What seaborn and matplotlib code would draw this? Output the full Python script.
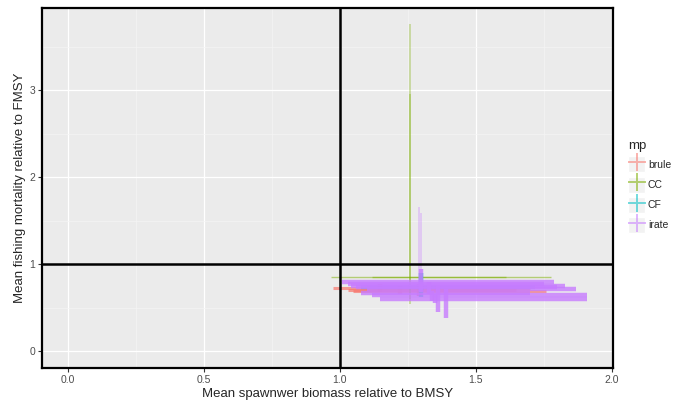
import matplotlib
matplotlib.use("Agg")
import matplotlib.pyplot as plt
from matplotlib.lines import Line2D
from matplotlib.patches import Rectangle
import seaborn as sns
import pandas as pd

# one row per scenario: mean SSB/BMSY and mean F/FMSY with their ranges
mp = ["brule", "brule", "brule",
      "CC", "CC",
      "CF",
      "irate", "irate", "irate", "irate", "irate", "irate", "irate", "irate"]
ssb = [1.15, 1.29, 1.22,
       1.26, 1.26,
       1.30,
       1.29, 1.30, 1.30, 1.33, 1.36, 1.39, 1.34, 1.35]
ssb_lo = [0.975, 1.05, 1.03,
          0.967, 1.12,
          1.08,
          1.01, 1.03, 1.04, 1.06, 1.10, 1.08, 1.12, 1.15]
ssb_hi = [1.70, 1.76, 1.65,
          1.776, 1.61,
          1.72,
          1.79, 1.75, 1.83, 1.80, 1.87, 1.70, 1.91, 1.91]
fmsy = [0.725, 0.69, 0.705,
        0.86, 0.86,
        0.74,
        0.80, 0.775, 0.755, 0.74, 0.715, 0.67, 0.645, 0.60]
fmsy_lo = [0.68, 0.64, 0.66,
           0.55, 0.60,
           0.62,
           0.70, 0.68, 0.68, 0.66, 0.45, 0.39, 0.58, 0.56]
fmsy_hi = [0.78, 0.78, 0.76,
           3.76, 2.96,
           0.90,
           1.66, 1.59, 0.95, 0.80, 0.76, 0.72, 0.70, 0.66]

df = pd.DataFrame({"mp": mp, "ssb": ssb, "ssb_lo": ssb_lo, "ssb_hi": ssb_hi,
                   "f": fmsy, "f_lo": fmsy_lo, "f_hi": fmsy_hi})

groups = ["brule", "CC", "CF", "irate"]
pal = dict(zip(groups, sns.color_palette(["#F8766D", "#7CAE00", "#00BFC4", "#C77CFF"])))
hwidth = {"brule": 2.2, "CC": 1.0, "CF": 3.0, "irate": 3.2}
halpha = {"brule": 0.7, "CC": 0.5, "CF": 0.6, "irate": 0.8}

sns.set_theme(style="darkgrid", rc={
    "axes.facecolor": "#EBEBEB",
    "grid.color": "white",
    "xtick.bottom": True, "ytick.left": True,
    "xtick.major.size": 3, "ytick.major.size": 3,
    "xtick.color": "#333333", "ytick.color": "#333333",
})
plt.rcParams["font.family"] = ["Liberation Sans", "DejaVu Sans"]

fig = plt.figure(figsize=(6.76, 4.01), dpi=100)
ax = fig.add_axes([42 / 676, 1 - 368 / 401, 571 / 676, 360 / 401])

for g in groups:
    d = df[df.mp == g]
    c = pal[g]
    ax.hlines(d.f, d.ssb_lo, d.ssb_hi, colors=[c], alpha=halpha[g], lw=hwidth[g])
    for _, r in d.iterrows():
        tall = (r.f_hi - r.f_lo) > 0.6
        ax.vlines(r.ssb, r.f_lo, r.f_hi, colors=[c], alpha=0.4 if tall else 0.8,
                  lw=1.1 if tall else 3.2)

ax.axvline(1, color="black", lw=1.8)
ax.axhline(1, color="black", lw=1.8)

ax.set_xlim(-0.0955, 2.0055)
ax.set_ylim(-0.19, 3.945)
ax.set_xticks([0, 0.5, 1.0, 1.5, 2.0])
ax.set_xticklabels(["0.0", "0.5", "1.0", "1.5", "2.0"])
ax.set_yticks([0, 1, 2, 3])
ax.set_xticks([0.25, 0.75, 1.25, 1.75], minor=True)
ax.set_yticks([0.5, 1.5, 2.5, 3.5], minor=True)
ax.grid(which="major", color="white", lw=0.9)
ax.grid(which="minor", color="#F5F5F5", lw=0.45)
ax.tick_params(which="minor", length=0)
ax.tick_params(which="major", labelsize=7.5, labelcolor="#4D4D4D", width=0.8, pad=2)
for s in ax.spines.values():
    s.set_visible(True)
    s.set_color("black")
    s.set_linewidth(1.6)

ax.set_xlabel("Mean spawnwer biomass relative to BMSY", fontsize=9.5, labelpad=2)
ax.set_ylabel("Mean fishing mortality relative to FMSY", fontsize=9.5, labelpad=2)

handles = []
for g in groups:
    bg = Rectangle((0, 0), 1, 1, facecolor="#F2F2F2", edgecolor="white")
    cross = Line2D([], [], ls="none", marker="+", markersize=13, mew=1.4,
                   color=pal[g], alpha=0.55)
    handles.append((bg, cross))
leg = fig.legend(handles, groups, title="mp", loc="upper left",
                 bbox_to_anchor=(624 / 676, 1 - 136 / 401), frameon=False,
                 fontsize=7.5, title_fontsize=9.5, handlelength=1.6,
                 handleheight=2.0, handletextpad=0.3, labelspacing=0.4,
                 borderaxespad=0)
leg._legend_box.align = "left"

fig.savefig("out.png", dpi=100)
